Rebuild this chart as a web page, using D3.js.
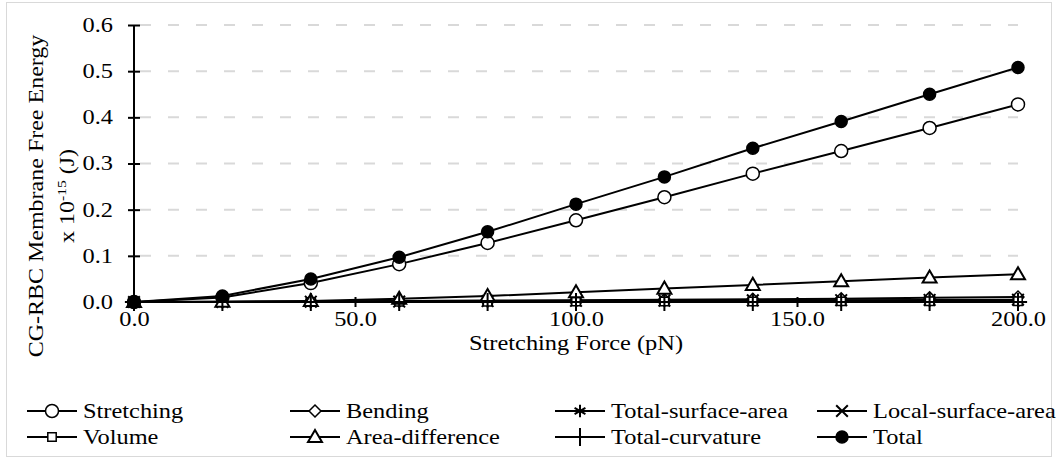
<!DOCTYPE html>
<html lang="en">
<head>
  <meta charset="UTF-8">
  <script src="https://cdn.jsdelivr.net/npm/d3@7"></script>
  <title>CG-RBC Membrane Free Energy</title>
  <style>
    body { margin: 0; background: #fff; }
  </style>
</head>
<body>
  <svg width="1057" height="459" id="chart"></svg>
  <script>
    // stretching force (pN)
    let force = [0, 20, 40, 60, 80, 100, 120, 140, 160, 180, 200];

    // energy values (x 10^-15 J)
    let stretching = [0, 0.010, 0.041, 0.082, 0.128, 0.177, 0.227, 0.278, 0.327, 0.377, 0.428];
    let bending = [0, 0.0003, 0.001, 0.002, 0.003, 0.004, 0.005, 0.006, 0.007, 0.009, 0.011];
    let totalSurfaceArea = [0, 0.0002, 0.0005, 0.001, 0.0015, 0.002, 0.0025, 0.003, 0.003, 0.0035, 0.004];
    let localSurfaceArea = [0, 0.0002, 0.0006, 0.001, 0.002, 0.0025, 0.003, 0.0035, 0.004, 0.0045, 0.005];
    let volume = [0, 0, 0.0002, 0.0004, 0.0006, 0.0008, 0.001, 0.0012, 0.0013, 0.0015, 0.0016];
    let areaDifference = [0, 0.0005, 0.002, 0.007, 0.013, 0.021, 0.029, 0.037, 0.045, 0.053, 0.060];
    let totalCurvature = [0, 0, 0, 0, 0, 0, 0, 0, 0, 0, 0];
    let total = [0, 0.013, 0.050, 0.097, 0.152, 0.212, 0.271, 0.333, 0.391, 0.450, 0.508];

    let xTicks = [0, 50, 100, 150, 200];
    let yTicks = [0, 0.1, 0.2, 0.3, 0.4, 0.5, 0.6];

    let series = [
      { name: "Stretching", values: stretching, marker: "circle" },
      { name: "Bending", values: bending, marker: "diamond" },
      { name: "Total-surface-area", values: totalSurfaceArea, marker: "asterisk" },
      { name: "Local-surface-area", values: localSurfaceArea, marker: "times" },
      { name: "Volume", values: volume, marker: "square" },
      { name: "Area-difference", values: areaDifference, marker: "triangle" },
      { name: "Total-curvature", values: totalCurvature, marker: "plus" },
      { name: "Total", values: total, marker: "dot" }
    ];

    const FONT = '"Liberation Serif", "Times New Roman", serif';
    const FS = "20px";
    const SX = 1.22; // text in the picture is stretched sideways

    let svg = d3.select("#chart").style("font-family", FONT);

    // outer frame
    svg.append("rect")
      .attr("x", 6.5).attr("y", 2.5)
      .attr("width", 1045).attr("height", 454)
      .attr("fill", "#fff")
      .attr("stroke", "#d9d9d9")

    /* SCALES */
    let scaleX = d3.scaleLinear().domain([0, 200]).range([134, 1018]);
    let scaleY = d3.scaleLinear().domain([0, 0.6]).range([302, 25]);

    /* GRID */
    svg.append("g")
      .selectAll("line")
      .data(yTicks.slice(1))
      .enter()
      .append("line")
      .attr("x1", scaleX(0) + 6)
      .attr("x2", scaleX(200))
      .attr("y1", d => scaleY(d))
      .attr("y2", d => scaleY(d))
      .attr("stroke", "#d9d9d9")
      .attr("stroke-width", 2)
      .attr("stroke-dasharray", "11,17")

    /* AXES */
    let axisY = d3.axisLeft(scaleY)
      .tickValues(yTicks)
      .tickFormat(d3.format(".1f"))
      .tickSize(0);
    let gy = svg.append("g").attr("transform", `translate(${scaleX(0)},0)`).call(axisY);
    gy.attr("font-family", null);
    gy.select(".domain").remove();
    gy.selectAll("text")
      .style("font-family", FONT).style("font-size", FS)
      .attr("x", -21 / SX)
      .attr("transform", `scale(${SX},1)`);
    gy.selectAll(".tick").append("line")
      .attr("x1", -6).attr("x2", 6)
      .attr("stroke", "#000").attr("stroke-width", 2);
    gy.append("line")
      .attr("y1", scaleY(0.6)).attr("y2", scaleY(0))
      .attr("stroke", "#000").attr("stroke-width", 2);

    let axisX = d3.axisBottom(scaleX)
      .tickValues(xTicks)
      .tickFormat(d3.format(".1f"))
      .tickSize(0)
      .tickPadding(10);
    let gx = svg.append("g").attr("transform", `translate(0,${scaleY(0)})`).call(axisX);
    gx.attr("font-family", null);
    gx.select(".domain").remove();
    gx.selectAll("text")
      .style("font-family", FONT).style("font-size", FS)
      .attr("transform", `scale(${SX},1)`);
    gx.selectAll(".tick").append("line")
      .attr("y1", -5).attr("y2", 5)
      .attr("stroke", "#000").attr("stroke-width", 2);
    gx.append("line")
      .attr("x1", scaleX(0)).attr("x2", scaleX(200))
      .attr("stroke", "#000").attr("stroke-width", 2);

    /* AXIS TITLES */
    svg.append("text")
      .text("Stretching Force (pN)")
      .attr("transform", `translate(576,350) scale(${SX},1)`)
      .attr("text-anchor", "middle")
      .style("font-size", FS)

    let yTitle = svg.append("text")
      .attr("transform", "translate(43,196) rotate(-90) scale(1.2,1)")
      .attr("text-anchor", "middle")
      .style("font-size", FS)
    yTitle.append("tspan").attr("x", 0).attr("dy", 0).text("CG-RBC Membrane Free Energy");
    let line2 = yTitle.append("tspan").attr("x", 0).attr("dy", 31);
    line2.append("tspan").text("x 10");
    line2.append("tspan").attr("dy", -8).style("font-size", "13px").text("-15");
    line2.append("tspan").attr("dy", 8).text(" (J)");

    /* MARKERS */
    function drawMarker(g, type) {
      if (type === "circle" || type === "dot") {
        g.append("circle").attr("r", type === "dot" ? 6 : 6.5)
          .attr("fill", type === "dot" ? "#000" : "#fff")
          .attr("stroke", "#000").attr("stroke-width", 1.5);
      } else if (type === "diamond") {
        g.append("path").attr("d", d3.symbol(d3.symbolDiamond2, 90)())
          .attr("fill", "#fff").attr("stroke", "#000").attr("stroke-width", 1.5);
      } else if (type === "square") {
        g.append("path").attr("d", d3.symbol(d3.symbolSquare2, 90)())
          .attr("fill", "#fff").attr("stroke", "#000").attr("stroke-width", 1.5);
      } else if (type === "triangle") {
        g.append("path").attr("d", d3.symbol(d3.symbolTriangle2, 140)())
          .attr("transform", "translate(0,1)")
          .attr("fill", "#fff").attr("stroke", "#000").attr("stroke-width", 2);
      } else if (type === "asterisk") {
        g.append("path").attr("d", d3.symbol(d3.symbolAsterisk, 110)())
          .attr("fill", "none").attr("stroke", "#000").attr("stroke-width", 2);
      } else if (type === "times") {
        g.append("path").attr("d", d3.symbol(d3.symbolTimes, 90)())
          .attr("fill", "none").attr("stroke", "#000").attr("stroke-width", 2);
      } else if (type === "plus") {
        g.append("path").attr("d", d3.symbol(d3.symbolPlus, 110)())
          .attr("fill", "none").attr("stroke", "#000").attr("stroke-width", 2);
      }
    }

    /* PLOT DATA */
    let line = d3.line()
      .x((d, i) => scaleX(force[i]))
      .y(d => scaleY(d));

    let plot = svg.append("g");
    series.forEach(s => {
      let g = plot.append("g");
      g.append("path")
        .attr("d", line(s.values))
        .attr("fill", "none")
        .attr("stroke", "#000")
        .attr("stroke-width", 2);
      s.values.forEach((v, i) => {
        let m = g.append("g").attr("transform", `translate(${scaleX(force[i])},${scaleY(v)})`);
        drawMarker(m, s.marker);
      });
    });

    /* LEGEND */
    let legendX = [27, 290, 555, 817];
    let legendY = [411, 437];
    let legend = svg.append("g");
    series.forEach((s, i) => {
      let lx = legendX[i % 4];
      let ly = legendY[Math.floor(i / 4)];
      let item = legend.append("g").attr("transform", `translate(${lx},${ly})`);
      item.append("line")
        .attr("x1", 0).attr("x2", 50)
        .attr("stroke", "#000").attr("stroke-width", 2);
      let m = item.append("g").attr("transform", "translate(25,0)");
      drawMarker(m, s.marker);
      item.append("text")
        .text(s.name)
        .attr("transform", `translate(56,7) scale(${SX},1)`)
        .style("font-size", FS)
    });
  </script>
</body>
</html>
